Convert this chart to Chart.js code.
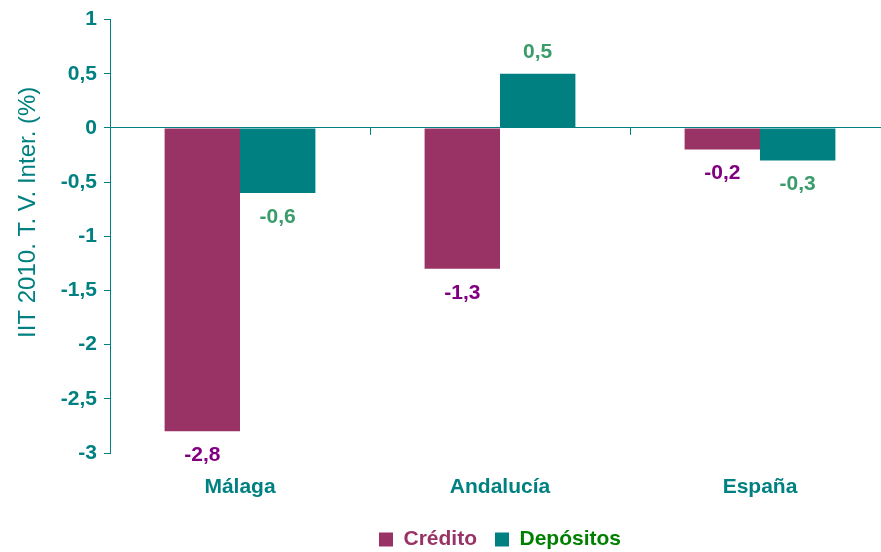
<!DOCTYPE html>
<html>
<head>
<meta charset="utf-8">
<style>
  html, body { margin: 0; padding: 0; overflow: hidden; background: #fff; }
  #wrap { width: 895px; height: 560px; }
</style>
<script src="https://cdn.jsdelivr.net/npm/chart.js"></script>
</head>
<body>
<div id="wrap"><canvas id="bar-chart"></canvas></div>
<script>
const categories = ['Málaga', 'Andalucía', 'España'];
const credito = [-2.8, -1.3, -0.2];
const depositos = [-0.6, 0.5, -0.3];
const yTicks = [1, 0.5, 0, -0.5, -1, -1.5, -2, -2.5, -3];

const teal = '#008080';
const fontFamily = '"Liberation Sans", Arial, sans-serif';
const yTitle = 'IIT 2010. T. V. Inter. (%)';
const fmt = v => String(v).replace('.', ',');

// value labels above/below each bar
const valueLabels = {
    id: 'valueLabels',
    afterDatasetsDraw(chart) {
        const ctx = chart.ctx;
        ctx.save();
        ctx.font = 'bold 21px ' + fontFamily;
        ctx.textAlign = 'center';
        ctx.textBaseline = 'middle';
        chart.data.datasets.forEach((ds, i) => {
            ctx.fillStyle = ds.labelColor;
            chart.getDatasetMeta(i).data.forEach((bar, j) => {
                const v = ds.data[j];
                const y = v < 0 ? bar.y + 24 : bar.y - 22;
                ctx.fillText(fmt(v), bar.x, y);
            });
        });
        ctx.restore();
    }
};

// small ticks between categories on the zero line, plus the y title
const extras = {
    id: 'extras',
    afterLayout(chart) {
        // legend sits a bit right of centre in the original
        chart.legend.left += 55;
        chart.legend.right += 55;
    },
    afterDraw(chart) {
        const x = chart.scales.x, y = chart.scales.y;
        const y0 = y.getPixelForValue(0);
        const ctx = chart.ctx;
        ctx.save();
        ctx.strokeStyle = teal;
        ctx.lineWidth = 1;
        for (let i = 1; i < categories.length; i++) {
            const px = Math.round((x.getPixelForValue(i - 1) + x.getPixelForValue(i)) / 2) + 0.5;
            ctx.beginPath();
            ctx.moveTo(px, y0);
            ctx.lineTo(px, y0 + 7);
            ctx.stroke();
        }
        const area = chart.chartArea;
        ctx.translate(28, (area.top + area.bottom) / 2 - 24);
        ctx.rotate(-Math.PI / 2);
        ctx.font = '24px ' + fontFamily;
        ctx.fillStyle = teal;
        ctx.textAlign = 'center';
        ctx.textBaseline = 'middle';
        ctx.fillText(yTitle, 0, 0);
        ctx.restore();
    }
};

new Chart(document.getElementById('bar-chart'), {
    type: 'bar',
    data: {
        labels: categories,
        datasets: [{
            label: 'Crédito',
            data: credito,
            backgroundColor: '#993366',
            labelColor: '#800080',
            legendText: '#993366'
        }, {
            label: 'Depósitos',
            data: depositos,
            backgroundColor: '#008080',
            labelColor: '#3a9c6a',
            legendText: '#008000'
        }]
    },
    plugins: [valueLabels, extras],
    options: {
        responsive: true,
        maintainAspectRatio: false,
        animation: false,
        layout: { padding: { top: 3, right: 5, bottom: 0 } },
        datasets: {
            bar: { categoryPercentage: 0.58, barPercentage: 1.0 }
        },
        plugins: {
            tooltip: { enabled: false },
            legend: {
                position: 'bottom',
                labels: {
                    boxWidth: 14,
                    boxHeight: 14,
                    padding: 18,
                    font: { family: fontFamily, size: 21, weight: 'bold' },
                    generateLabels(chart) {
                        return chart.data.datasets.map((ds, i) => ({
                            text: ds.label,
                            fillStyle: ds.backgroundColor,
                            strokeStyle: ds.backgroundColor,
                            lineWidth: 0,
                            fontColor: ds.legendText,
                            datasetIndex: i
                        }));
                    }
                }
            }
        },
        scales: {
            x: {
                grid: { display: false },
                border: { display: false },
                afterFit(scale) { scale.height = 58; },
                ticks: {
                    color: teal,
                    padding: 14,
                    font: { family: fontFamily, size: 21, weight: 'bold' }
                }
            },
            y: {
                min: -3,
                max: 1,
                afterBuildTicks(scale) {
                    scale.ticks = yTicks.map(v => ({ value: v }));
                },
                afterFit(scale) { scale.width = 110; },
                border: { color: teal, width: 1 },
                grid: {
                    color: c => c.tick && c.tick.value === 0 ? teal : 'transparent',
                    tickColor: teal,
                    tickLength: 6
                },
                ticks: {
                    color: teal,
                    padding: 7,
                    font: { family: fontFamily, size: 21, weight: 'bold' },
                    callback: v => fmt(v)
                }
            }
        }
    }
});
</script>
</body>
</html>
